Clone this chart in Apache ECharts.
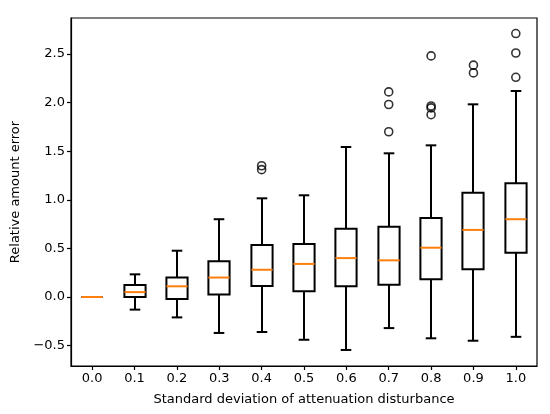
<!DOCTYPE html>
<html>
<head>
<meta charset="utf-8">
<script src="https://cdn.jsdelivr.net/npm/echarts@6/dist/echarts.min.js"></script>
<style>
  html, body { margin: 0; padding: 0; background: #fff; }
  #chart { width: 550px; height: 414px; }
</style>
</head>
<body>
<div id="chart"></div>
<script>
// std dev of the attenuation disturbance
const categories = ['0.0', '0.1', '0.2', '0.3', '0.4', '0.5', '0.6', '0.7', '0.8', '0.9', '1.0'];

// box stats
const whiskerLow  = [0, -0.13, -0.21, -0.37, -0.36, -0.44, -0.545, -0.32, -0.425, -0.45, -0.41];
const q1          = [0, 0.0, -0.02, 0.025, 0.113, 0.06, 0.11, 0.127, 0.182, 0.285, 0.456];
const median      = [0, 0.05, 0.11, 0.20, 0.28, 0.34, 0.40, 0.377, 0.507, 0.69, 0.80];
const q3          = [0, 0.123, 0.20, 0.367, 0.535, 0.545, 0.703, 0.723, 0.813, 1.073, 1.17];
const whiskerHigh = [0, 0.233, 0.476, 0.80, 1.015, 1.046, 1.543, 1.478, 1.56, 1.982, 2.119];

// fliers: [category index, value]
const outliers = [
  [4, 1.35], [4, 1.31],
  [7, 2.11], [7, 1.98], [7, 1.70],
  [8, 2.48], [8, 1.965], [8, 1.945], [8, 1.875],
  [9, 2.385], [9, 2.305],
  [10, 2.71], [10, 2.51], [10, 2.26]
];

const boxData = categories.map((c, i) =>
  [i, whiskerLow[i], q1[i], median[i], q3[i], whiskerHigh[i]]);

const font = 'DejaVu Sans';
const minus = v => String(v.toFixed(1)).replace('-', '\u2212');

function renderBox(params, api) {
  const idx = api.value(0);
  const band = api.size([1, 0])[0];
  const half = band * 0.25;
  const cap = band * 0.125;
  const pLow = api.coord([idx, api.value(1)]);
  const pQ1 = api.coord([idx, api.value(2)]);
  const pMed = api.coord([idx, api.value(3)]);
  const pQ3 = api.coord([idx, api.value(4)]);
  const pHigh = api.coord([idx, api.value(5)]);
  const x = Math.round(pMed[0]);
  const line = { stroke: '#000', lineWidth: 2 };
  return {
    type: 'group',
    children: [
      { type: 'line', shape: { x1: x, y1: pQ1[1], x2: x, y2: pLow[1] }, style: line },
      { type: 'line', shape: { x1: x, y1: pQ3[1], x2: x, y2: pHigh[1] }, style: line },
      { type: 'line', shape: { x1: x - cap, y1: pLow[1], x2: x + cap, y2: pLow[1] }, style: line },
      { type: 'line', shape: { x1: x - cap, y1: pHigh[1], x2: x + cap, y2: pHigh[1] }, style: line },
      { type: 'rect', shape: { x: x - half, y: pQ3[1], width: half * 2, height: pQ1[1] - pQ3[1] },
        style: { fill: 'none', stroke: '#000', lineWidth: 2 } },
      { type: 'line', shape: { x1: x - half, y1: pMed[1], x2: x + half, y2: pMed[1] },
        style: { stroke: '#ff7f0e', lineWidth: 2 } }
    ]
  };
}

const chart = echarts.init(document.getElementById('chart'), null, { renderer: 'canvas' });
chart.setOption({
  animation: false,
  backgroundColor: '#fff',
  textStyle: { fontFamily: font, color: '#000' },
  grid: {
    left: 71, right: 13, top: 18, bottom: 48,
    show: true, borderColor: '#000', borderWidth: 1.2
  },
  xAxis: {
    type: 'category',
    data: categories,
    boundaryGap: true,
    name: 'Standard deviation of attenuation disturbance',
    nameLocation: 'middle',
    nameGap: 27,
    nameTextStyle: { fontFamily: font, fontSize: 13, color: '#000' },
    axisLine: { show: true, onZero: false, lineStyle: { color: '#000', width: 1.2 } },
    axisTick: { show: true, alignWithLabel: true, length: 4, lineStyle: { color: '#000', width: 1.2 } },
    axisLabel: { fontFamily: font, fontSize: 13, color: '#000', margin: 6 },
    splitLine: { show: false }
  },
  yAxis: {
    type: 'value',
    min: -0.71,
    max: 2.87,
    splitNumber: 7,
    name: 'Relative amount error',
    nameLocation: 'middle',
    nameGap: 43,
    nameTextStyle: { fontFamily: font, fontSize: 13, color: '#000' },
    axisLine: { show: true, lineStyle: { color: '#000', width: 1.2 } },
    axisTick: { show: true, length: 4, lineStyle: { color: '#000', width: 1.2 } },
    axisLabel: {
      fontFamily: font, fontSize: 13, color: '#000', margin: 6,
      showMinLabel: false, showMaxLabel: false,
      formatter: v => minus(v)
    },
    splitLine: { show: false }
  },
  series: [
    {
      type: 'custom',
      renderItem: renderBox,
      encode: { x: 0, y: [1, 2, 3, 4, 5] },
      data: boxData,
      z: 2
    },
    {
      type: 'scatter',
      data: outliers,
      symbol: 'circle',
      symbolSize: 8,
      itemStyle: { color: 'rgba(0,0,0,0)', borderColor: '#000', borderWidth: 1.6 },
      z: 3
    }
  ]
});
</script>
</body>
</html>
